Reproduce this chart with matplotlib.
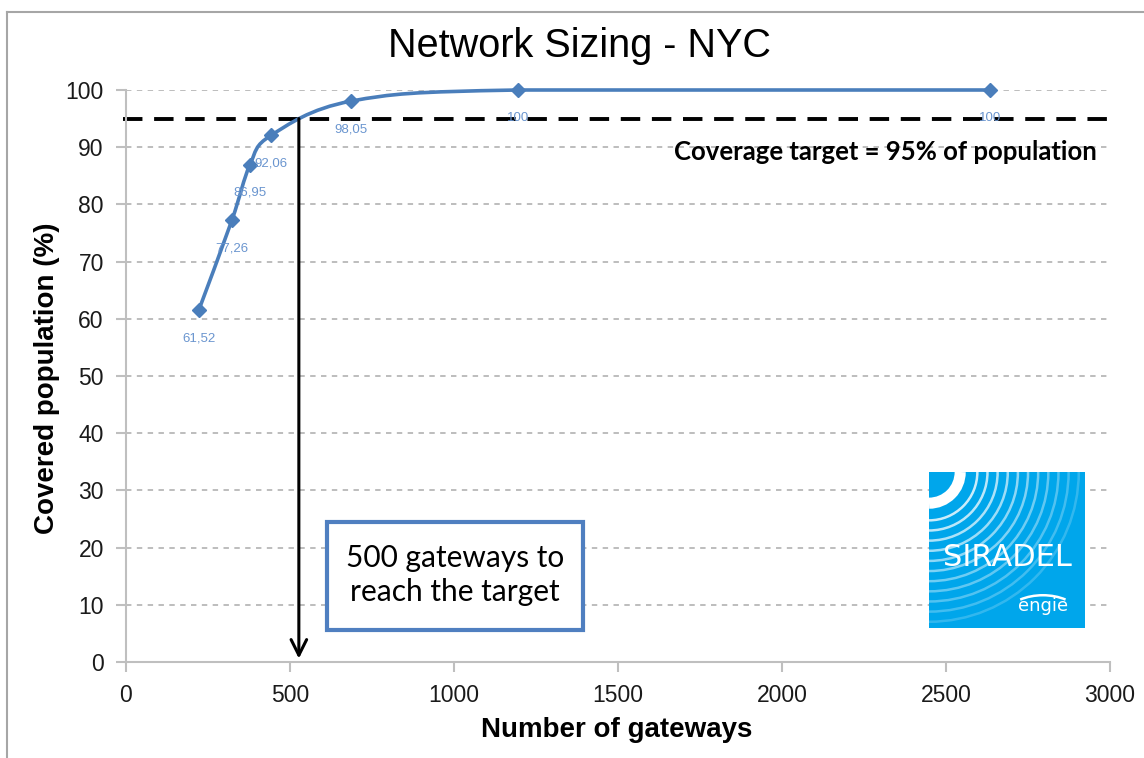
import numpy as np
import matplotlib
matplotlib.use("Agg")
import matplotlib.pyplot as plt
from matplotlib.path import Path
from matplotlib.patches import PathPatch, Rectangle, Arc

plt.rcParams["font.family"] = ["Liberation Sans", "DejaVu Sans"]

# data
gateways = [222, 323, 378, 442, 686, 1195, 2634]
coverage = [61.52, 77.26, 86.95, 92.06, 98.05, 100, 100]
point_labels = ["61,52", "77,26", "86,95", "92,06", "98,05", "100", "100"]
target = 95
target_gateways = 527
x_ticks = [0, 500, 1000, 1500, 2000, 2500, 3000]
y_ticks = list(range(0, 101, 10))

line_blue = "#4A7EBB"
label_blue = "#6A95CF"
grid_gray = "#B8B8B8"
axis_gray = "#BFBFBF"


def smooth_path(xs, ys, tension=0.5):
    """Excel-like smoothed line: Catmull-Rom Beziers, control y kept in segment range"""
    pts = np.column_stack([xs, ys]).astype(float)
    verts = [pts[0]]
    codes = [Path.MOVETO]
    n = len(pts)
    for i in range(n - 1):
        p0 = pts[max(i - 1, 0)]
        p1 = pts[i]
        p2 = pts[i + 1]
        p3 = pts[min(i + 2, n - 1)]
        c1 = p1 + (p2 - p0) * tension / 3
        c2 = p2 - (p3 - p1) * tension / 3
        lo, hi = min(p1[1], p2[1]), max(p1[1], p2[1])
        c1[1] = np.clip(c1[1], lo, hi)
        c2[1] = np.clip(c2[1], lo, hi)
        verts += [c1, c2, p2]
        codes += [Path.CURVE4] * 3
    return Path(verts, codes)


W, H = 1144, 758
fig = plt.figure(figsize=(W / 100, H / 100), dpi=100)
fig.patch.set_facecolor("white")

# outer chart frame (only top and left edges visible in the crop)
fig.add_artist(plt.Line2D([7 / W, 7 / W], [0, 1 - 12 / H], color="#A6A6A6", lw=1.5))
fig.add_artist(plt.Line2D([7 / W, 1], [1 - 12 / H, 1 - 12 / H], color="#A6A6A6", lw=1.5))

ax = fig.add_axes([126 / W, 1 - 662 / H, (1110 - 126) / W, (662 - 90) / H])
ax.set_xlim(0, 3000)
ax.set_ylim(0, 100)
ax.set_xticks(x_ticks)
ax.set_yticks(y_ticks)
for s in ["top", "right"]:
    ax.spines[s].set_visible(False)
for s in ["left", "bottom"]:
    ax.spines[s].set_color(axis_gray)
    ax.spines[s].set_linewidth(1.5)
ax.tick_params(axis="both", colors=axis_gray, width=1.5, length=7, labelsize=16.5,
               labelcolor="#1a1a1a")
ax.tick_params(axis="y", pad=9)
ax.tick_params(axis="x", pad=9)

ax.yaxis.grid(True, color=grid_gray, linestyle=(0, (3, 3)), linewidth=1.3)
ax.set_axisbelow(True)

# smoothed curve + markers
ax.add_patch(PathPatch(smooth_path(gateways, coverage), facecolor="none",
                       edgecolor=line_blue, lw=2.6, clip_on=False, zorder=3))
ax.plot(gateways, coverage, linestyle="none", marker="D", markersize=7,
        color=line_blue, clip_on=False, zorder=4)
for x, y, t in zip(gateways, coverage, point_labels):
    ax.annotate(t, (x, y), xytext=(0, -16), textcoords="offset points",
                ha="center", va="top", fontsize=9.5, color=label_blue, zorder=5)

# coverage target
ax.plot([-10, 3020], [target, target], color="black", lw=2.8,
        linestyle=(0, (5, 3)), clip_on=False, zorder=2)
ax.text(2960, 89.2, "Coverage target = 95% of population", ha="right",
        va="center", fontsize=18.5, fontweight="bold", fontfamily="Lato")

# arrow down to the x axis
ax.annotate("", xy=(target_gateways, 0.6), xytext=(target_gateways, target),
            arrowprops=dict(arrowstyle="->", color="black", lw=2.2,
                            mutation_scale=28, shrinkA=0, shrinkB=0), zorder=5)

# callout box
box = Rectangle((327 / W, 1 - 630 / H), (583 - 327) / W, (630 - 522) / H,
                transform=fig.transFigure, facecolor="white",
                edgecolor="#4F7FC0", lw=3, zorder=6)
fig.add_artist(box)
fig.text(455 / W, 1 - 575 / H, "500 gateways to\nreach the target", ha="center",
         va="center", fontsize=21.5, fontfamily="Lato", linespacing=1.3,
         color="black", zorder=7)

# SIRADEL logo
lg = fig.add_axes([929 / W, 1 - 628 / H, 156 / W, 156 / H])
lg.set_xlim(0, 1)
lg.set_ylim(0, 1)
lg.axis("off")
lg.add_patch(Rectangle((0, 0), 1, 1, facecolor="#00A6EB", edgecolor="none"))
lg.add_patch(Arc((0, 1), 0.40, 0.40, theta1=270, theta2=360, color="white",
                 lw=8, clip_on=True))
for k, r in enumerate(np.arange(0.62, 2.05, 0.13)):
    lg.add_patch(Arc((0, 1), r, r, theta1=270, theta2=360, color="white",
                     lw=1.8, alpha=max(0.8 - 0.06 * k, 0.15), clip_on=True))
lg.text(0.5, 0.455, "SIRADEL", ha="center", va="center", color="white",
        fontsize=22, fontfamily="DejaVu Sans")
lg.add_patch(Arc((0.73, 0.06), 0.5, 0.3, theta1=40, theta2=140, color="white",
                 lw=1.8))
lg.text(0.73, 0.14, "engie", ha="center", va="center", color="white",
        fontsize=13, fontfamily="DejaVu Sans")

fig.text(580 / W, 1 - 46 / H, "Network Sizing - NYC", ha="center", va="center",
         fontsize=28.5)
fig.text(617 / W, 1 - 730 / H, "Number of gateways", ha="center", va="center",
         fontsize=20, fontweight="bold")
fig.text(47 / W, 1 - 378 / H, "Covered population (%)", ha="center", va="center",
         rotation=90, fontsize=20, fontweight="bold")

fig.savefig("out.png", dpi=100)
